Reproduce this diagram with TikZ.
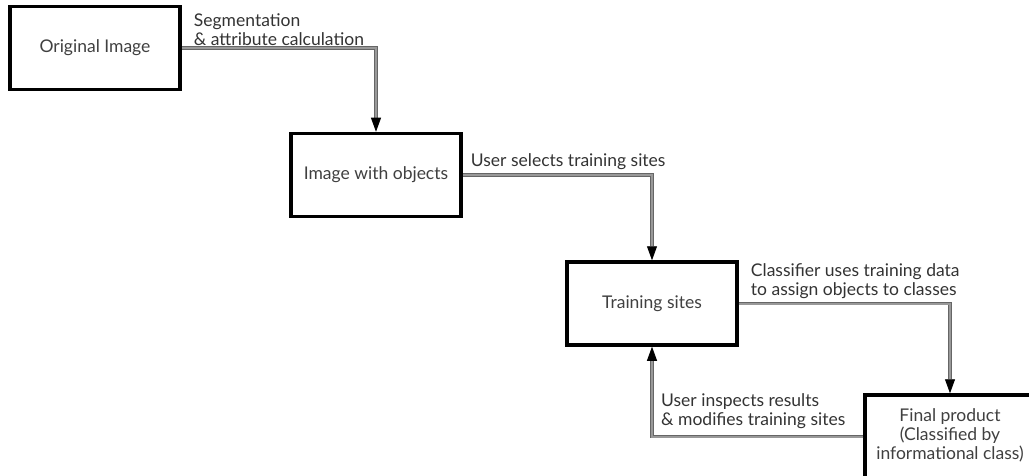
\documentclass[tikz,border=0pt]{standalone}
\usepackage{fontspec}
\setmainfont{Lato}
\usetikzlibrary{positioning,arrows.meta}
\tikzset{
  box/.style={draw=black, line width=3.5pt, fill=white, minimum width=170pt,
    minimum height=83pt, align=center, text=black!75, font=\fontsize{17.5}{19}\selectfont},
  lbl/.style={align=left, inner sep=0pt, text=black!80, font=\fontsize{17.5}{19}\selectfont},
  flow/.style={draw=black!60, double=black!40, double distance=2pt, line width=0.8pt,
    -{Triangle[black, length=14pt, width=10pt]}}
}
\begin{document}
\begin{tikzpicture}[x=1pt,y=1pt]
\useasboundingbox (0,0) rectangle (1029,475);
% boxes
\node[box] (orig) at (95,427) {Original Image};
\node[box] (objs) at (376,300) {Image with objects};
\node[box] (train) at (652,171.5) {Training sites};
\node[box] (final) at (950,38.5) {\raisebox{5pt}{\begin{tabular}{@{}c@{}}Final product\\(Classified by\\informational class)\end{tabular}}};
% connectors
\draw[flow] (orig.east) -| (objs.north);
\draw[flow] (objs.east) -| (train.north);
\draw[flow] (train.east) -| (final.north);
\coordinate (back) at (train.south |- final.west);
\draw[flow] (final.west) -- (back) -- (train.south);
% labels
\node[lbl, above right=2pt and 12pt of orig.east] (seg) {Segmentation\\\& attribute calculation};
\node[lbl, above right=5pt and 8pt of objs.east] (sel) {User selects training sites};
\node[lbl, above right=5pt and 12pt of train.east] (cls) {Classifier uses training data\\to assign objects to classes};
\node[lbl, above right=8pt and 9pt of back] (insp) {User inspects results\\\& modifies training sites};
\end{tikzpicture}
\end{document}
